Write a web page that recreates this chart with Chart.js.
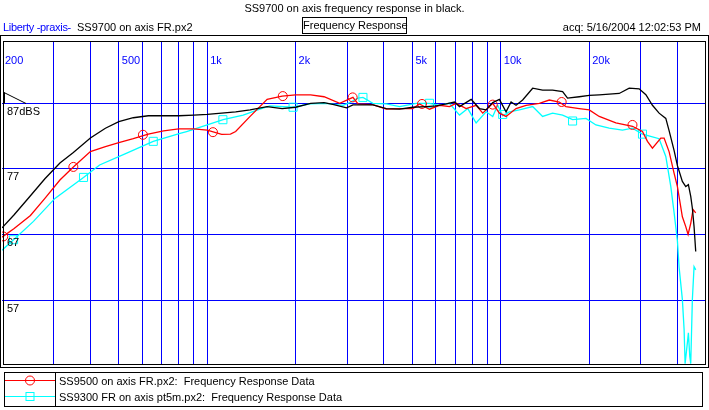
<!DOCTYPE html>
<html>
<head>
<meta charset="utf-8">
<script src="https://cdn.jsdelivr.net/npm/chart.js@4"></script>
<style>
  body { margin: 0; background: #fff; }
  #wrap { position: relative; width: 709px; height: 410px; font-family: "Liberation Sans", Arial, sans-serif; font-size: 11px; color: #000; }
  #dash { position: absolute; left: 0; top: 0; }
  .t { position: absolute; white-space: pre; line-height: 14px; }
  #legenda { position: absolute; left: 4px; top: 372px; width: 697px; height: 33px; border: 1px solid #000; }
  #legenda .sep { position: absolute; left: 50px; top: 0; width: 1px; height: 33px; background: #000; }
  #legenda svg { position: absolute; left: 0; top: 0; }
</style>
</head>
<body>
<div id="wrap">
  <canvas id="dash" width="709" height="410"></canvas>
  <div class="t" style="left:0; width:709px; text-align:center; top:1px;">SS9700 on axis frequency response in black.</div>
  <div class="t" style="left:3px; top:20px; color:#0000ff; letter-spacing:-0.3px;">Liberty -praxis-</div>
  <div class="t" style="left:77px; top:20px;">SS9700 on axis FR.px2</div>
  <div class="t" style="left:302px; top:17px; width:103px; height:15px; border:1px solid #000; text-align:center; line-height:15px;">Frequency Response</div>
  <div class="t" style="right:8px; top:20px;">acq: 5/16/2004 12:02:53 PM</div>
  <div id="legenda">
    <svg width="51" height="33">
      <line x1="0" y1="7.5" x2="50" y2="7.5" stroke="#ff0000" stroke-width="1"/>
      <circle cx="25" cy="7.5" r="4.5" fill="none" stroke="#ff0000" stroke-width="1"/>
      <line x1="0" y1="23.5" x2="50" y2="23.5" stroke="#00ffff" stroke-width="1"/>
      <rect x="21" y="19.5" width="8" height="8" fill="none" stroke="#00ffff" stroke-width="1"/>
    </svg>
    <div class="sep"></div>
    <div class="t" style="left:54px; top:1px;">SS9500 on axis FR.px2:  Frequency Response Data</div>
    <div class="t" style="left:54px; top:17px;">SS9300 FR on axis pt5m.px2:  Frequency Response Data</div>
  </div>
</div>
<script>
// eixo x (Hz) e eixo y (dB)
const gridFreqs = [300, 400, 500, 600, 700, 800, 900, 1000, 2000, 3000, 4000, 5000, 6000, 7000, 8000, 9000, 10000, 20000, 30000, 40000];
const labelFreqs = [200, 500, 1000, 2000, 5000, 10000, 20000];
const labelFreqText = ['200', '500', '1k', '2k', '5k', '10k', '20k'];
const gridDb = [57, 67, 77, 87];
const labelDbText = ['57', '67', '77', '87dBS'];

// SS9700 (preto)
const blackFreq = [200, 220, 250, 280, 315, 350, 400, 450, 500, 560, 630, 710, 800, 900, 1000, 1120, 1250, 1400, 1600, 1800,
  2000, 2250, 2500, 2700, 2985, 3136, 3667, 4074, 4521, 5016, 5572, 6026, 6516, 6955, 7233, 7925, 8457, 8913, 9387, 9890,
  10420, 10840, 11270, 11870, 12840, 13880, 15010, 16240, 16880, 18500, 20010, 21640, 23400, 25310, 27370, 29600, 31200,
  32850, 34610, 36480, 37450, 38940, 39960, 41540, 42660, 43550, 44360, 44930, 45530, 46130];
const blackDb = [68.0, 70.0, 72.9, 75.5, 77.9, 79.5, 81.7, 83.2, 84.2, 84.8, 85.1, 85.1, 85.1, 85.2, 85.3, 85.5, 85.7, 86.0, 86.5, 86.2,
  86.4, 87.0, 87.1, 86.8, 86.3, 86.75, 86.75, 86.2, 86.1, 86.4, 86.5, 86.6, 86.9, 87.2, 86.5, 87.6, 86.2, 86.0, 87.1, 87.6,
  85.7, 87.2, 86.7, 87.5, 89.3, 89.0, 89.0, 88.8, 87.8, 88.0, 88.2, 88.3, 88.4, 88.5, 89.3, 89.2, 88.3,
  86.7, 85.5, 84.7, 82.8, 79.8, 77.5, 75.1, 74.3, 74.6, 72.8, 71.0, 68.2, 64.4];

// SS9500 (vermelho)
const redFreq = [200, 220, 250, 280, 315, 350, 400, 450, 500, 560, 630, 710, 800, 900, 1000, 1120, 1200, 1250, 1400, 1600, 1800,
  2000, 2250, 2500, 2827, 3136, 3262, 3667, 4074, 4521, 5016, 5287, 5716, 6182, 6686, 7047, 7621, 8241, 8680, 9387, 9890,
  10420, 11270, 12190, 13530, 14630, 15820, 16670, 18500, 20010, 21640, 24660, 28090, 30380, 31590, 32850, 35080, 36000,
  37450, 38940, 39960, 41540, 42660, 43450, 44360, 45170, 46130];
const redDb = [66.6, 67.9, 69.9, 72.5, 75.3, 77.3, 79.65, 80.4, 81.0, 81.6, 82.3, 82.8, 83.1, 83.1, 82.9, 82.25, 82.3, 82.7, 85.0, 87.6, 88.1,
  88.3, 88.3, 88.0, 87.0, 87.9, 86.9, 86.8, 86.1, 86.2, 86.2, 86.9, 86.1, 86.7, 86.5, 87.0, 86.2, 86.7, 85.5, 87.0, 85.5,
  85.0, 86.2, 86.7, 87.0, 87.5, 87.2, 86.5, 86.2, 86.0, 85.0, 84.0, 83.5, 82.7, 81.2, 80.15, 81.7, 81.7,
  79.6, 76.3, 74.3, 69.7, 68.2, 67.0, 68.7, 70.8, 70.3];
const redMarkFreq = [202, 350, 604, 1046, 1809, 3129, 5390, 9387, 16120, 28090];
const redMarkDb = [66.7, 77.3, 82.2, 82.6, 88.1, 87.9, 86.9, 86.8, 87.2, 83.7];

// SS9300 (ciano)
const cyanFreq = [200, 219, 256, 303, 379, 430, 532, 655, 808, 851, 1000, 1133, 1326, 1511, 1634, 1961, 2235, 2547, 2900, 3057,
  3262, 3392, 3667, 4074, 4521, 5152, 5716, 6182, 6686, 7233, 7718, 8241, 8913, 9387, 9761, 10150, 10700, 11570, 12840,
  13880, 15010, 16240, 17560, 19500, 21090, 23400, 25970, 28090, 30380, 32850, 34610, 36480, 37940, 38940, 39960, 40490,
  41540, 42110, 42440, 43210, 43550, 44030, 44360, 44930, 45530, 46130];
const cyanDb = [64.6, 66.2, 69.0, 72.5, 75.7, 77.6, 79.4, 81.2, 82.4, 82.7, 83.7, 84.5, 85.2, 86.1, 86.6, 86.4, 86.9, 87.0, 86.7, 87.1,
  87.8, 87.9, 87.0, 86.9, 86.5, 87.0, 87.0, 86.7, 87.0, 85.2, 86.2, 84.0, 85.7, 85.0, 86.7, 85.1, 85.7, 86.0, 86.5,
  85.0, 85.5, 85.2, 84.5, 84.7, 83.7, 83.2, 82.9, 83.2, 82.3, 81.9, 81.6, 78.9, 74.3, 70.3, 66.0, 62.0,
  57.1, 52.5, 47.3, 50.5, 52.0, 48.4, 47.3, 57.1, 62.1, 61.6];
const cyanMarkFreq = [219, 379, 655, 1131, 1961, 3392, 5716, 10150, 17560, 30380];
const cyanMarkDb = [66.2, 75.7, 81.2, 84.5, 86.4, 87.9, 87.0, 85.3, 84.3, 82.3];

function pontos(fs, ds) {
  return fs.map((f, i) => ({ x: f, y: ds[i] }));
}

const moldura = {
  id: 'moldura',
  afterDraw(chart) {
    const ctx = chart.ctx;
    const a = chart.chartArea;
    const sx = chart.scales.x;
    const sy = chart.scales.y;
    ctx.save();
    ctx.strokeStyle = '#000';
    ctx.lineWidth = 1;
    ctx.strokeRect(0.5, 35.5, 708, 332);
    ctx.strokeRect(3.5, a.top + 0.5, 702, a.bottom - a.top);
    // triangulo de referencia
    const y87 = Math.round(sy.getPixelForValue(87)) + 0.5;
    ctx.beginPath();
    ctx.moveTo(4, y87 - 11);
    ctx.lineTo(26, y87);
    ctx.moveTo(4.5, y87 - 11);
    ctx.lineTo(4.5, y87);
    ctx.stroke();
    ctx.font = '11px "Liberation Sans", Arial, sans-serif';
    ctx.textBaseline = 'alphabetic';
    ctx.fillStyle = '#0000ff';
    labelFreqs.forEach((f, i) => {
      ctx.fillText(labelFreqText[i], sx.getPixelForValue(f) + 3, 64);
    });
    ctx.fillStyle = '#000';
    ctx.textBaseline = 'top';
    gridDb.forEach((d, i) => {
      ctx.fillText(labelDbText[i], 7, sy.getPixelForValue(d) + 3);
    });
    ctx.restore();
  }
};

const dash = document.getElementById('dash');

new Chart(dash, {
  type: 'line',
  data: {
    datasets: [
      { label: 'SS9700', data: pontos(blackFreq, blackDb), borderColor: '#000000', borderWidth: 1.3, pointRadius: 0, order: 1 },
      { label: 'SS9500', data: pontos(redFreq, redDb), borderColor: '#ff0000', borderWidth: 1.3, pointRadius: 0, order: 2 },
      { label: 'SS9300', data: pontos(cyanFreq, cyanDb), borderColor: '#00ffff', borderWidth: 1.3, pointRadius: 0, order: 3 },
      { label: 'm9500', data: pontos(redMarkFreq, redMarkDb), showLine: false, pointStyle: 'circle', pointRadius: 4.5,
        borderColor: '#ff0000', backgroundColor: 'rgba(0,0,0,0)', pointBorderWidth: 1, order: 2 },
      { label: 'm9300', data: pontos(cyanMarkFreq, cyanMarkDb), showLine: false, pointStyle: 'rect', pointRadius: 5.7,
        borderColor: '#00ffff', backgroundColor: 'rgba(0,0,0,0)', pointBorderWidth: 1, order: 3 },
    ],
  },
  options: {
    responsive: false,
    animation: false,
    devicePixelRatio: 1,
    layout: { autoPadding: false, padding: { top: 41, left: 2, right: 3, bottom: 46 } },
    elements: { line: { tension: 0 } },
    scales: {
      x: {
        type: 'logarithmic',
        min: 200,
        max: 50000,
        afterBuildTicks: (s) => { s.ticks = gridFreqs.map(v => ({ value: v })); },
        afterFit: (s) => { s.height = 0; },
        ticks: { display: false },
        grid: { color: '#0000ff', lineWidth: 1, drawTicks: false },
        border: { display: false },
      },
      y: {
        type: 'linear',
        min: 47.25,
        max: 96.5,
        afterBuildTicks: (s) => { s.ticks = gridDb.map(v => ({ value: v })); },
        afterFit: (s) => { s.width = 0; },
        ticks: { display: false },
        grid: { color: '#0000ff', lineWidth: 1, drawTicks: false },
        border: { display: false },
      },
    },
    plugins: {
      legend: { display: false },
      tooltip: { enabled: false },
    },
  },
  plugins: [moldura],
});
</script>
</body>
</html>
